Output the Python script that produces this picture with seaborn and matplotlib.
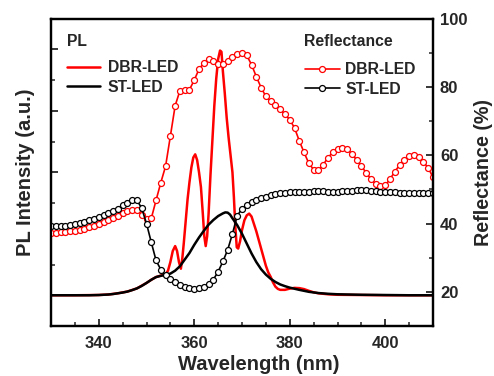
import matplotlib
matplotlib.use("Agg")
import matplotlib.pyplot as plt
import seaborn as sns
import numpy as np
import pandas as pd
from matplotlib.ticker import MultipleLocator, NullFormatter

# ---------------- data ----------------
# Reflectance (%) sampled every 1 nm
refl_wl = list(range(330, 411))
refl_dbr = [37.2, 37.3, 37.4, 37.5, 37.7, 37.9, 38.1, 38.5, 38.9, 39.4,
            39.9, 40.5, 41.1, 41.7, 42.3, 43.0, 43.7, 44.1, 44.0, 42.6,
            41.2, 41.5, 46.8, 52.0, 56.8, 65.6, 74.5, 78.9, 79.0, 79.2,
            82.0, 85.2, 87.0, 88.1, 87.5, 86.6, 86.7, 87.6, 88.8, 89.6,
            90.0, 89.2, 86.5, 83.0, 79.8, 77.2, 75.8, 74.6, 73.4, 72.0,
            70.4, 68.0, 64.2, 60.8, 57.6, 55.8, 55.6, 57.2, 59.3, 60.8,
            61.7, 62.2, 61.7, 60.5, 58.6, 56.8, 54.9, 53.0, 51.6, 50.9,
            51.2, 53.0, 55.2, 57.1, 58.7, 59.7, 60.1, 59.4, 58.0, 56.3,
            53.5]
refl_st = [39.2, 39.2, 39.3, 39.4, 39.6, 39.8, 40.1, 40.5, 40.9, 41.4,
           41.9, 42.4, 43.0, 43.7, 44.4, 45.3, 46.1, 46.8, 46.8, 44.5,
           40.0, 34.5, 29.2, 26.5, 24.8, 23.9, 23.0, 22.0, 21.5, 21.0,
           20.8, 21.0, 21.4, 22.2, 23.6, 25.9, 28.9, 32.3, 37.0, 42.3,
           44.3, 45.4, 46.2, 46.9, 47.4, 47.9, 48.3, 48.6, 48.9, 49.0,
           49.1, 49.2, 49.2, 49.3, 49.3, 49.4, 49.4, 49.4, 49.3, 49.3,
           49.3, 49.4, 49.5, 49.6, 49.7, 49.8, 49.8, 49.6, 49.4, 49.3,
           49.2, 49.1, 49.1, 49.0, 49.0, 48.9, 48.9, 48.8, 48.8, 48.8,
           48.8]

# PL intensity (normalised, a.u.)
pl_st_wl = [330, 332, 334, 336, 338, 340, 342, 343, 344, 345, 346, 347, 348,
            349, 350, 351, 352, 353, 354, 355, 356, 357, 358, 359, 360, 361,
            362, 363, 364, 365, 366, 366.5, 367, 367.5, 368, 369, 370, 371,
            372, 373, 374, 375, 376, 377, 378, 379, 380, 382, 384, 386, 388,
            390, 395, 400, 405, 410]
pl_st = [0, 0, 0, 0, 0, 0.001, 0.003, 0.005, 0.008, 0.011, 0.015, 0.021,
         0.028, 0.038, 0.050, 0.063, 0.074, 0.079, 0.083, 0.088, 0.100,
         0.118, 0.145, 0.172, 0.205, 0.235, 0.262, 0.287, 0.306, 0.322,
         0.333, 0.337, 0.336, 0.328, 0.313, 0.285, 0.250, 0.210, 0.170,
         0.135, 0.106, 0.084, 0.067, 0.054, 0.044, 0.037, 0.031, 0.022,
         0.014, 0.009, 0.006, 0.004, 0.002, 0.001, 0, 0]

pl_dbr_wl = [330, 335, 340, 342, 344, 346, 348, 350, 351, 352, 353, 354,
             354.5, 355, 355.5, 356, 356.4, 356.8, 357.2, 357.5, 357.8,
             358.2, 358.6, 359, 359.4, 359.8, 360.2, 360.6, 361, 361.4,
             361.8, 362.1, 362.4, 362.7, 363, 363.4, 363.8, 364.2, 364.6,
             365, 365.4, 365.7, 366, 366.4, 366.8, 367.2, 367.6, 368, 368.3,
             368.6, 368.9, 369.2, 369.6, 370, 370.5, 371, 371.5, 372, 372.5,
             373, 373.5, 374, 374.5, 375, 375.5, 376, 376.5, 377, 377.5,
             378, 379, 380, 381, 382, 383, 384, 385, 386, 388, 390, 395,
             400, 410]
pl_dbr = [0, 0, 0.001, 0.003, 0.008, 0.015, 0.028, 0.050, 0.063, 0.074,
          0.080, 0.086, 0.100, 0.135, 0.180, 0.200, 0.180, 0.135, 0.108,
          0.150, 0.210, 0.300, 0.390, 0.460, 0.520, 0.560, 0.573, 0.550,
          0.500, 0.440, 0.330, 0.240, 0.200, 0.240, 0.330, 0.490, 0.630,
          0.770, 0.880, 0.960, 0.995, 0.990, 0.910, 0.820, 0.720, 0.640,
          0.570, 0.500, 0.400, 0.280, 0.195, 0.190, 0.220, 0.265, 0.305,
          0.325, 0.332, 0.320, 0.290, 0.260, 0.225, 0.190, 0.155, 0.120,
          0.093, 0.075, 0.052, 0.035, 0.026, 0.022, 0.022, 0.027, 0.030,
          0.029, 0.025, 0.018, 0.012, 0.008, 0.004, 0.002, 0.001, 0, 0]

x_ticks = [340, 360, 380, 400]
refl_ticks = [20, 40, 60, 80, 100]

# ---------------- style ----------------
sns.set_style("white")
plt.rcParams['font.family'] = ['Liberation Sans', 'DejaVu Sans']
plt.rcParams['font.weight'] = 'bold'
plt.rcParams['axes.labelweight'] = 'bold'

W, H = 494, 376
L, R, T, B = 51, 433, 18.6, 326
fig = plt.figure(figsize=(W / 100, H / 100), dpi=100)
ax = fig.add_axes([L / W, 1 - B / H, (R - L) / W, (B - T) / H])
ax2 = ax.twinx()


def fx(px):
    return (px - L) / (R - L)


def fy(py):
    return 1 - (py - T) / (B - T)


RED = '#ff0000'
BLK = '#000000'

df_pl_st = pd.DataFrame({'wl': pl_st_wl, 'I': pl_st})
df_pl_dbr = pd.DataFrame({'wl': pl_dbr_wl, 'I': pl_dbr})
df_r = pd.DataFrame({'wl': refl_wl, 'dbr': refl_dbr, 'st': refl_st})

sns.lineplot(data=df_pl_dbr, x='wl', y='I', ax=ax, color=RED, lw=1.8,
             label='DBR-LED', sort=False)
sns.lineplot(data=df_pl_st, x='wl', y='I', ax=ax, color=BLK, lw=1.8,
             label='ST-LED', sort=False)

sns.lineplot(data=df_r, x='wl', y='dbr', ax=ax2, color=RED, lw=1.2,
             marker='o', markersize=4.3, markerfacecolor='white',
             markeredgecolor=RED, markeredgewidth=0.9, label='DBR-LED')
sns.lineplot(data=df_r, x='wl', y='st', ax=ax2, color=BLK, lw=1.2,
             marker='o', markersize=4.3, markerfacecolor='white',
             markeredgecolor=BLK, markeredgewidth=0.9, label='ST-LED')

# axes limits / ticks
ax.set_xlim(330, 410)
ax.set_ylim(-0.125, 1.125)
ax2.set_ylim(10, 100)

ax.set_xticks(x_ticks)
ax.xaxis.set_minor_locator(MultipleLocator(5))
ax.yaxis.set_major_locator(MultipleLocator(0.25))
ax.yaxis.set_minor_locator(MultipleLocator(0.125))
ax.yaxis.set_major_formatter(NullFormatter())
ax2.set_yticks(refl_ticks)
ax2.yaxis.set_minor_locator(MultipleLocator(10))

for a in (ax, ax2):
    for s in a.spines.values():
        s.set_linewidth(1.6)
        s.set_color('black')

ax.tick_params(axis='x', which='major', direction='in', length=5, width=1.3,
               labelsize=12, pad=7, top=False, bottom=True)
ax.tick_params(axis='x', which='minor', direction='in', length=3, width=1.1,
               top=False, bottom=True)
ax.tick_params(axis='y', which='major', direction='in', length=5, width=1.3,
               left=True, right=False)
ax.tick_params(axis='y', which='minor', direction='in', length=3, width=1.1,
               left=True, right=False)
ax2.tick_params(axis='y', which='major', direction='in', length=5, width=1.3,
                labelsize=12, pad=5, right=True)
ax2.tick_params(axis='y', which='minor', direction='in', length=3, width=1.1,
                right=True)
for lab in ax.get_xticklabels() + ax2.get_yticklabels():
    lab.set_fontweight('bold')

ax.set_xlabel('Wavelength (nm)', fontsize=14.5, fontweight='bold')
ax.xaxis.set_label_coords(fx(258.5), fy(365), transform=ax.transAxes)
ax.xaxis.label.set_va('center')
ax.set_ylabel('PL Intensity (a.u.)', fontsize=14.5, fontweight='bold', labelpad=8)
ax2.set_ylabel('Reflectance (%)', fontsize=14.2, fontweight='bold')
ax2.yaxis.set_label_coords(fx(483.5), 0.5, transform=ax2.transAxes)
ax2.yaxis.label.set_va('center')

FS = 11.3
ax.text(fx(67), fy(42), 'PL', transform=ax.transAxes, fontsize=FS,
        fontweight='bold', ha='left', va='center')
ax2.text(fx(304), fy(42), 'Reflectance', transform=ax2.transAxes,
         fontsize=FS, fontweight='bold', ha='left', va='center')

leg1 = ax.legend(loc='upper left', bbox_to_anchor=(fx(67), fy(60)),
                 frameon=False, fontsize=FS, handlelength=2.1,
                 handletextpad=0.5, labelspacing=0.3, borderpad=0,
                 borderaxespad=0)
for t in leg1.get_texts():
    t.set_fontweight('bold')
leg2 = ax2.legend(loc='upper left', bbox_to_anchor=(fx(305), fy(62)),
                  frameon=False, fontsize=FS, handlelength=2.2,
                  handletextpad=0.35, labelspacing=0.3, borderpad=0,
                  borderaxespad=0)
for t in leg2.get_texts():
    t.set_fontweight('bold')

fig.savefig('out.png', dpi=100)
